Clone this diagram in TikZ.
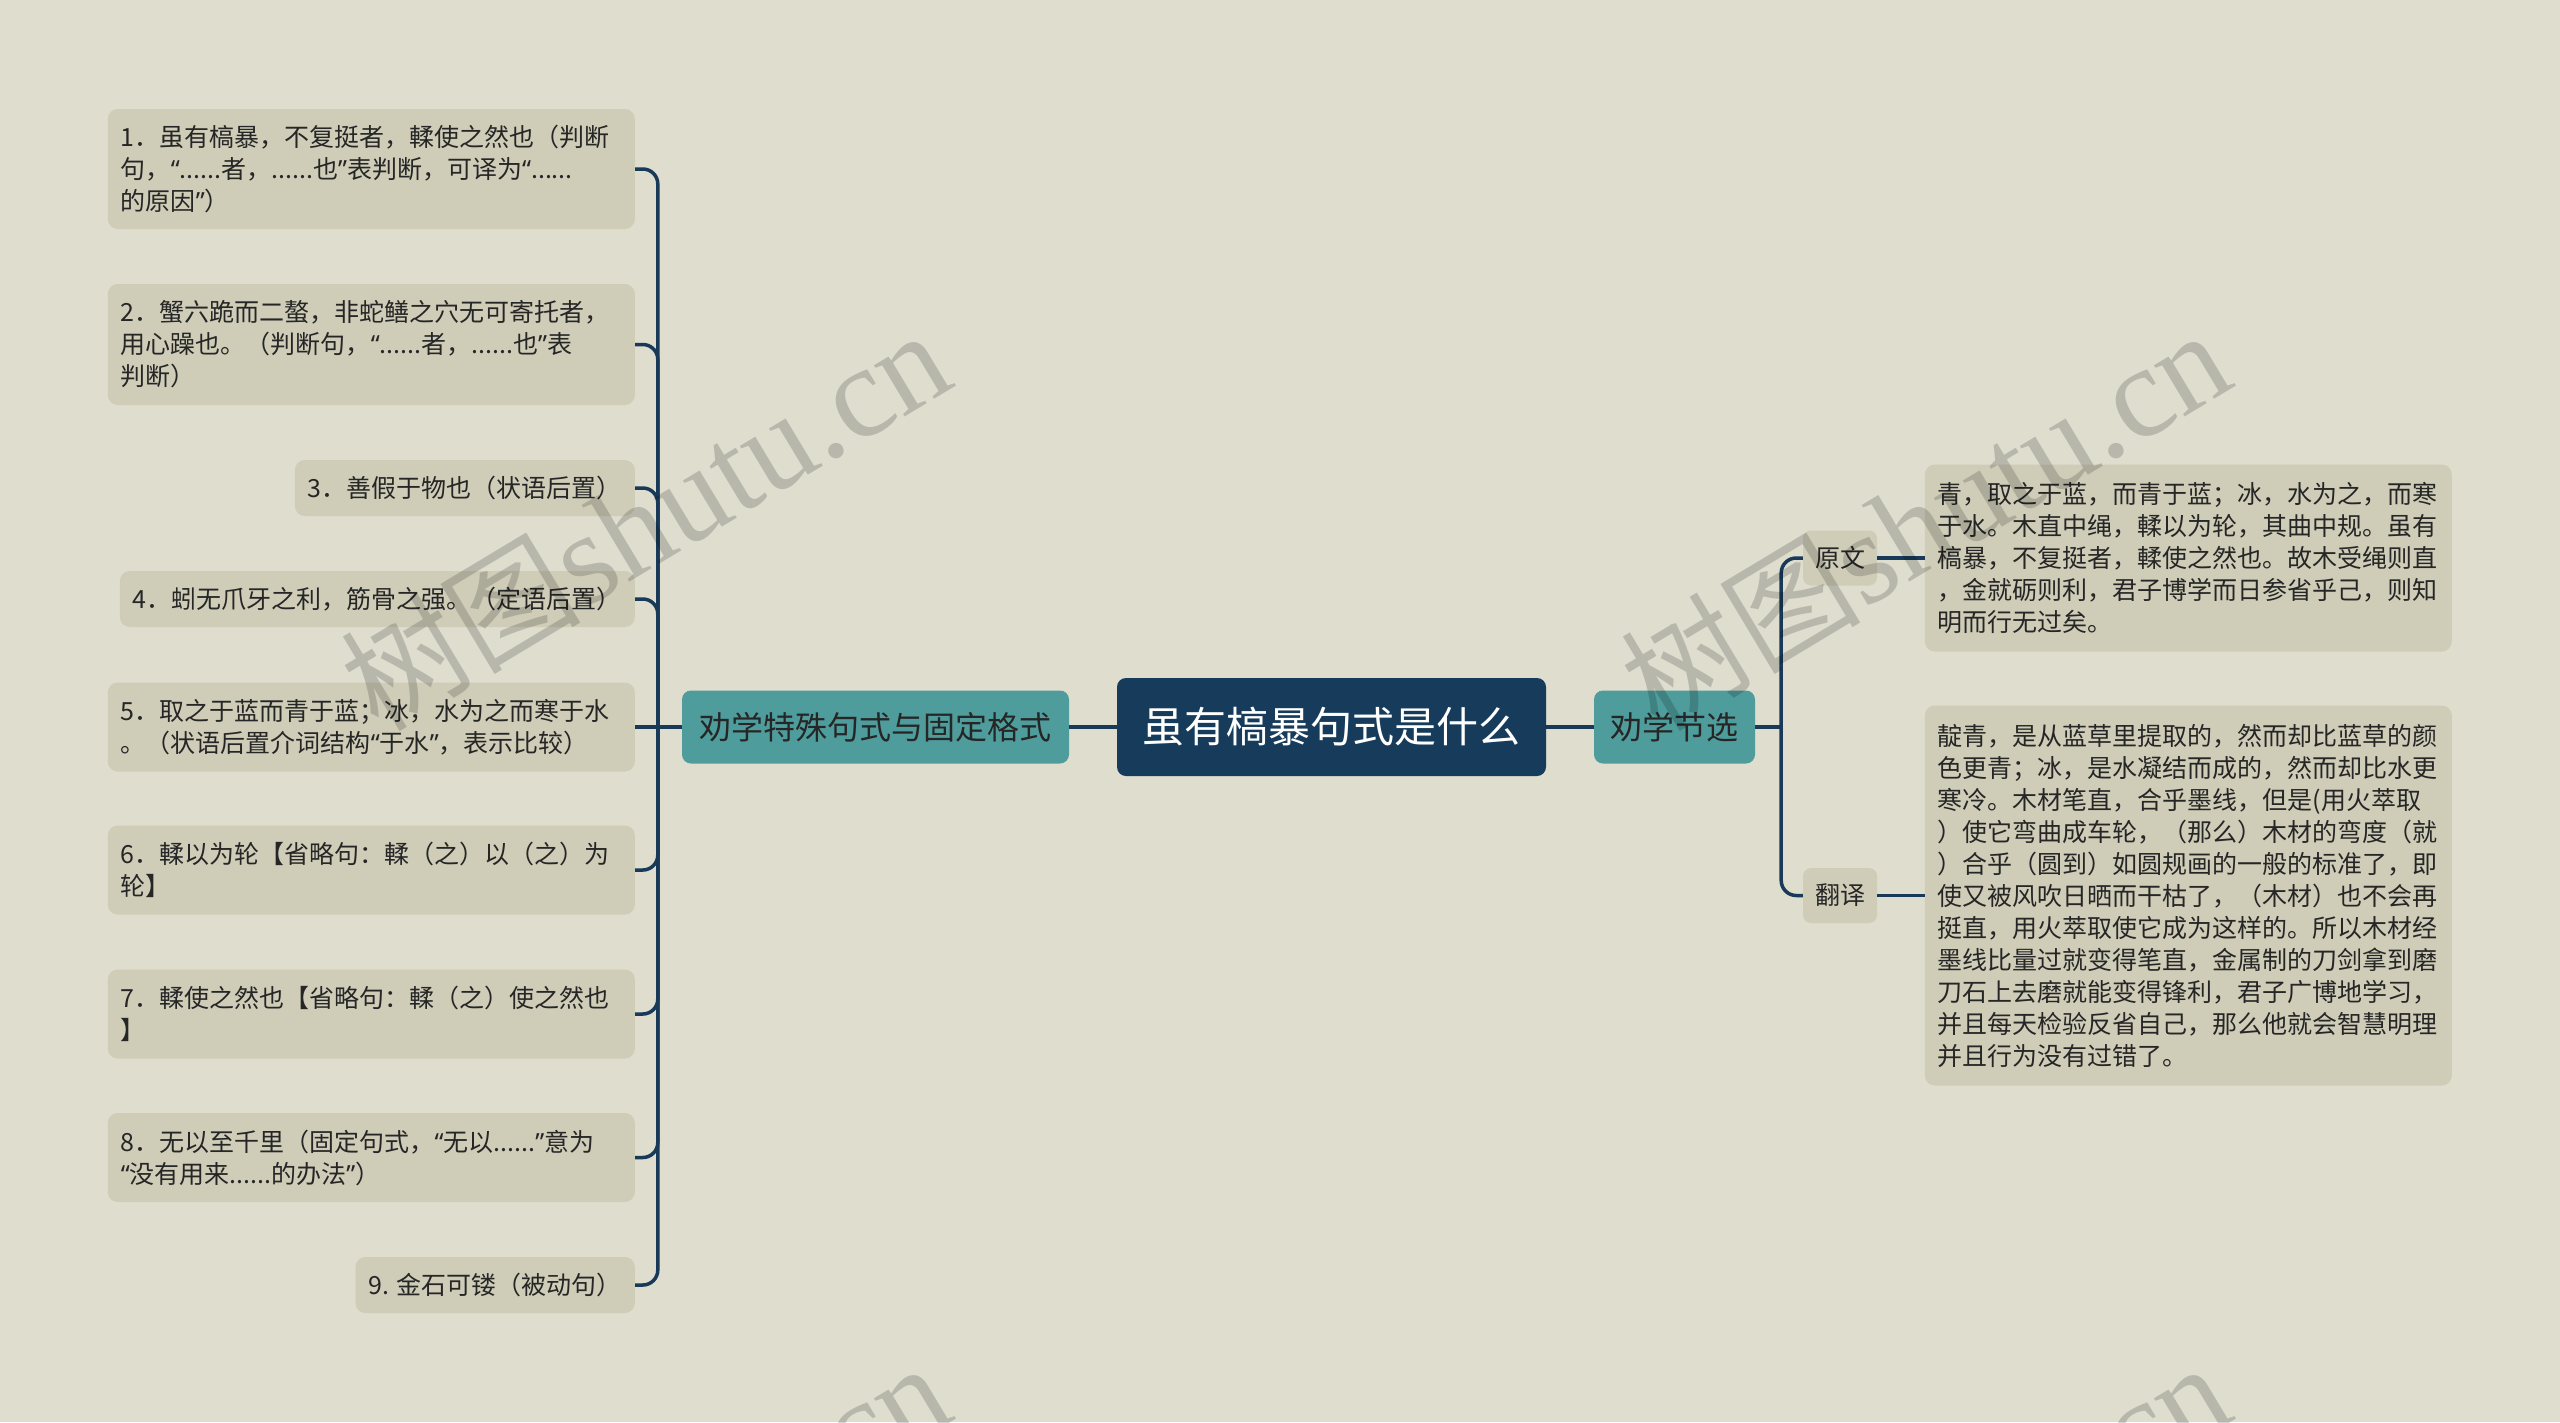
\documentclass[tikz,border=0pt]{standalone}
\usepackage{fontspec}
\newfontfamily\cjk{Noto Sans CJK SC}
\newfontfamily\latq{Noto Sans}
\newfontfamily\wmserif{Liberation Serif}
\newcommand\qL{{\latq “}}
\newcommand\qR{{\latq ”}}
\usetikzlibrary{calc}
\definecolor{bg}{RGB}{222,221,206}
\definecolor{leaf}{RGB}{207,205,184}
\definecolor{navy}{RGB}{23,60,91}
\definecolor{tealb}{RGB}{78,157,156}
\definecolor{connc}{RGB}{24,58,88}
\definecolor{txt}{RGB}{38,38,38}
\begin{document}
\begin{tikzpicture}[x=1pt,y=-1pt,
  leafbox/.style={fill=leaf, rounded corners=10pt, font=\cjk\fontsize{25}{32}\selectfont, text=txt, inner xsep=13pt, inner ysep=0pt, align=left, anchor=east},
  wide/.style={text width=501pt},
  rootbox/.style={fill=navy, rounded corners=9pt, text=white, font=\cjk\fontsize{42}{50}\selectfont, minimum width=429pt, minimum height=98pt, inner sep=0pt},
  branchbox/.style={fill=tealb, rounded corners=9pt, text=txt, font=\cjk\fontsize{32}{40}\selectfont, minimum height=73pt, inner sep=0pt},
  subbox/.style={fill=leaf, rounded corners=8pt, text=txt, font=\cjk\fontsize{25}{32}\selectfont, minimum width=74pt, minimum height=55pt, inner sep=0pt},
  conn/.style={draw=connc, line width=3.5pt, rounded corners=15pt},
  wmark/.style={rotate=31, text=black, text opacity=0.17, inner sep=0pt}
]
\useasboundingbox (0,0) rectangle (2560,1422);
\fill[bg] (0,0) rectangle (2560,1422);

% root and branches
\node[rootbox] (root) at (1331.5,727) {虽有槁暴句式是什么};
\node[branchbox, minimum width=387pt] (L) at (875.5,727) {劝学特殊句式与固定格式};
\node[branchbox, minimum width=161pt] (R) at (1674.5,727) {劝学节选};

% left leaves
\node[leafbox, wide, minimum height=120pt] (c1) at (635,169) {1．虽有槁暴，不复挺者，輮使之然也（判断\\句，\qL......者，......也\qR 表判断，可译为\qL......\\的原因\qR）};
\node[leafbox, wide, minimum height=121pt] (c2) at (635,344.5) {2．蟹六跪而二螯，非蛇鳝之穴无可寄托者，\\用心躁也。（判断句，\qL......者，......也\qR 表\\判断）};
\node[leafbox, minimum height=56pt] (c3) at (635,488) {3．善假于物也（状语后置）};
\node[leafbox, minimum height=56pt] (c4) at (635,599) {4．蚓无爪牙之利，筋骨之强。（定语后置）};
\node[leafbox, wide, minimum height=89pt] (c5) at (635,727) {5．取之于蓝而青于蓝；冰，水为之而寒于水\\。（状语后置介词结构\qL 于水\qR，表示比较）};
\node[leafbox, wide, minimum height=89pt] (c6) at (635,870) {6．輮以为轮【省略句：輮（之）以（之）为\\轮】};
\node[leafbox, wide, minimum height=89pt] (c7) at (635,1014) {7．輮使之然也【省略句：輮（之）使之然也\\】};
\node[leafbox, wide, minimum height=89pt] (c8) at (635,1157.5) {8．无以至千里（固定句式，\qL 无以......\qR 意为\\\qL 没有用来......的办法\qR）};
\node[leafbox, minimum height=56pt] (c9) at (635,1285) {9. 金石可镂（被动句）};

% right sub-branches
\node[subbox] (yw) at (1840,558) {原文};
\node[subbox] (fy) at (1840,895.5) {翻译};
\node[leafbox, wide, minimum height=187pt] (ywt) at (2452,558) {青，取之于蓝，而青于蓝；冰，水为之，而寒\\于水。木直中绳，輮以为轮，其曲中规。虽有\\槁暴，不复挺者，輮使之然也。故木受绳则直\\，金就砺则利，君子博学而日参省乎己，则知\\明而行无过矣。};
\node[leafbox, wide, minimum height=380pt] (fyt) at (2452,895.5) {靛青，是从蓝草里提取的，然而却比蓝草的颜\\色更青；冰，是水凝结而成的，然而却比水更\\寒冷。木材笔直，合乎墨线，但是(用火萃取\\）使它弯曲成车轮，（那么）木材的弯度（就\\）合乎（圆到）如圆规画的一般的标准了，即\\使又被风吹日晒而干枯了，（木材）也不会再\\挺直，用火萃取使它成为这样的。所以木材经\\墨线比量过就变得笔直，金属制的刀剑拿到磨\\刀石上去磨就能变得锋利，君子广博地学习，\\并且每天检验反省自己，那么他就会智慧明理\\并且行为没有过错了。};

% connectors
\draw[conn] (L.east) -- (root.west);
\draw[conn] (root.east) -- (R.west);
\coordinate (Lj) at ($(L.west)+(-24,0)$);
\draw[conn] (L.west) -- (Lj);
\foreach \c in {c1,c2,c3,c4,c6,c7,c8,c9}{
  \draw[conn] (Lj) |- (\c.east);
}
\draw[conn] (Lj) -- (c5.east);
\coordinate (Rj) at ($(R.east)+(26,0)$);
\draw[conn] (R.east) -- (Rj);
\draw[conn] (Rj) |- (yw.west);
\draw[conn] (Rj) |- (fy.west);
\draw[conn] (yw.east) -- (ywt.west);
\draw[conn] (fy.east) -- (fyt.west);

% watermarks
\begin{scope}
\clip (0,0) rectangle (2560,1422);
\foreach \wx/\wy in {645/520, 1925/520, 645/1553, 1925/1553}{
  \node[wmark] (wm-\wx-\wy) at (\wx,\wy) {{\cjk\fontsize{120}{120}\selectfont 树图}{\wmserif\fontsize{130}{130}\selectfont shutu.cn}};
}
\end{scope}
\end{tikzpicture}
\end{document}
